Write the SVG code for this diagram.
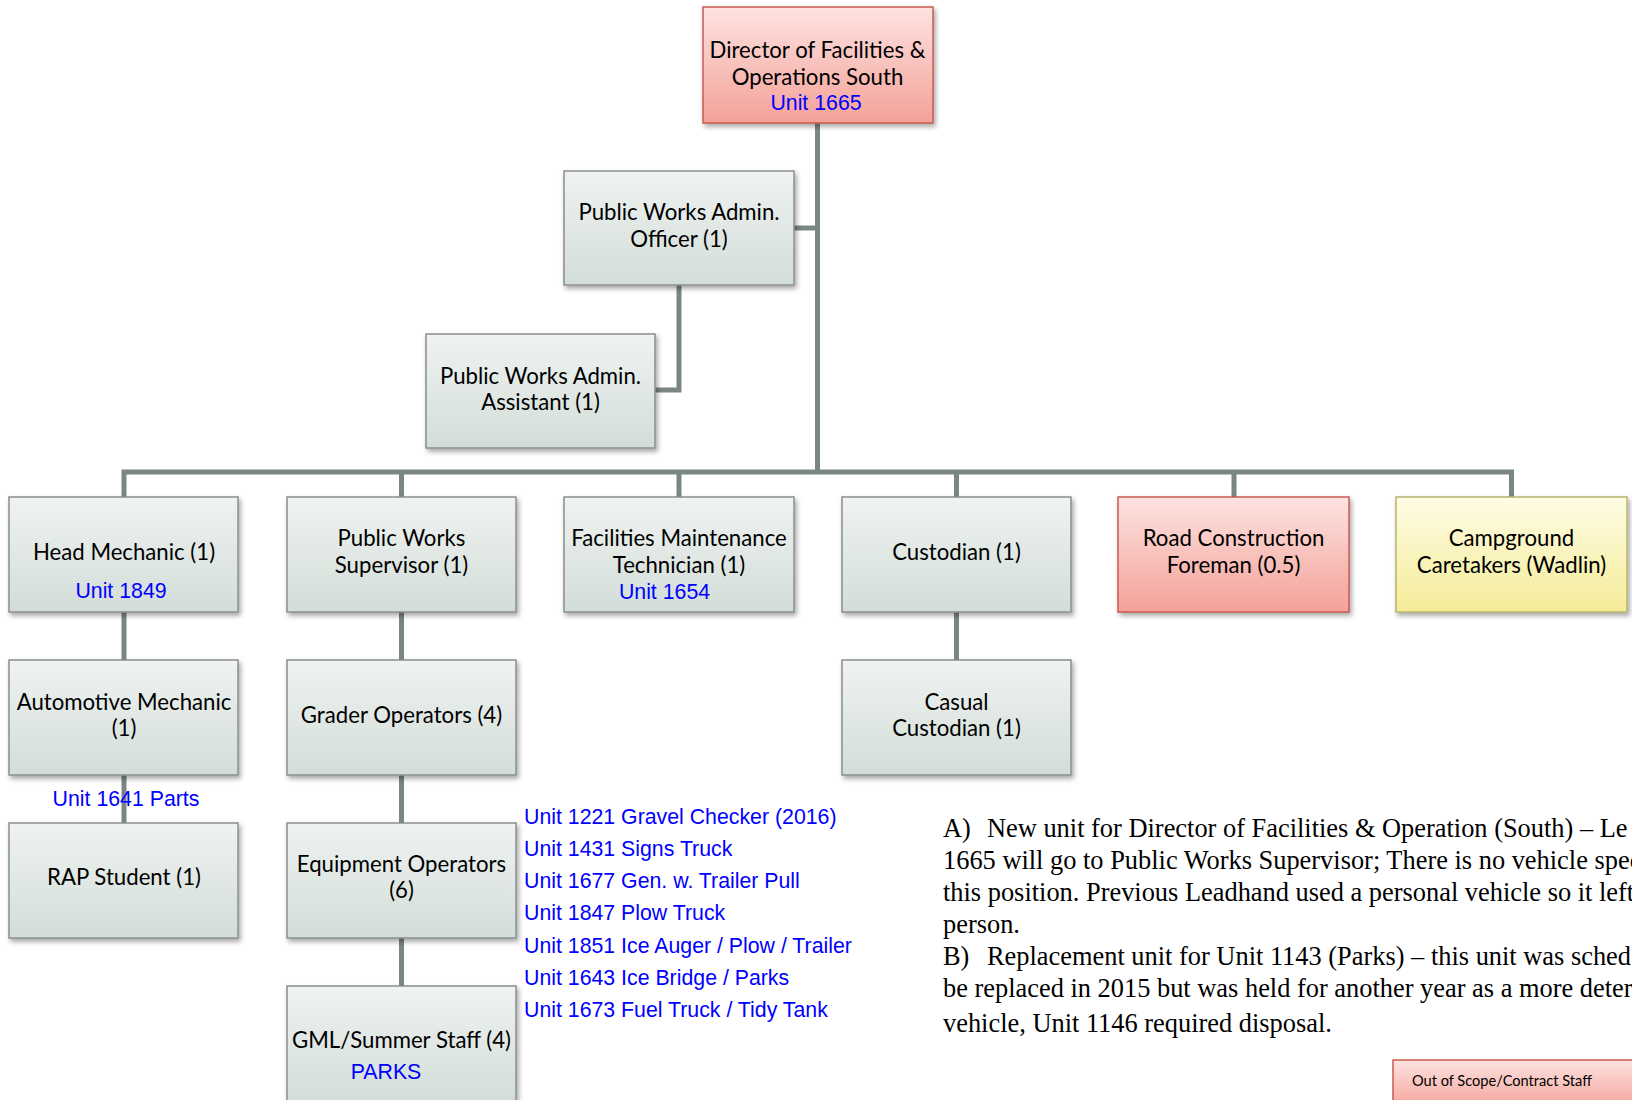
<svg xmlns="http://www.w3.org/2000/svg" width="1632" height="1100" viewBox="0 0 1632 1100">
<style>
.box{stroke-width:1.5}
.g{fill:url(#gGray);stroke:#8a8f8c}
.r{fill:url(#gRed);stroke:#c95a50}
.y{fill:url(#gYel);stroke:#b8b46c}
.t{font-family:Lato,"Open Sans",sans-serif;font-size:22.2px;fill:#000;text-anchor:middle}
.u{font-family:"Liberation Sans",Arial,sans-serif;font-size:21.3px;fill:#0000ff}
.c{text-anchor:middle}
.n{font-family:"Liberation Serif","Times New Roman",serif;font-size:26.4px;fill:#000}
.con{fill:none;stroke:#7a8680;stroke-width:5}
</style>
<defs>
<linearGradient id="gGray" x1="0" y1="0" x2="0" y2="1"><stop offset="0" stop-color="#eff3f1"/><stop offset="1" stop-color="#d3ddd8"/></linearGradient>
<linearGradient id="gRed" x1="0" y1="0" x2="0" y2="1"><stop offset="0" stop-color="#fde3e1"/><stop offset="1" stop-color="#f4a198"/></linearGradient>
<linearGradient id="gYel" x1="0" y1="0" x2="0" y2="1"><stop offset="0" stop-color="#fefce4"/><stop offset="1" stop-color="#f5ec98"/></linearGradient>
<filter id="sh" x="-10%" y="-10%" width="130%" height="130%"><feDropShadow dx="2" dy="3" stdDeviation="2.5" flood-color="#000" flood-opacity="0.35"/></filter>
</defs>
<rect width="1632" height="1100" fill="#fff"/>

<g id="connectors">
<path class="con" d="M817.5 123 V472"/>
<path class="con" d="M794 228 H817.5"/>
<path class="con" d="M679 285 V390 H655"/>
<path class="con" d="M124 497 V472 H1511.5 V497"/>
<path class="con" d="M401.5 472 V497 M679 472 V497 M956.5 472 V497 M1234 472 V497"/>
<path class="con" d="M124 612 V660 M124 775 V823"/>
<path class="con" d="M401.5 612 V660 M401.5 775 V823 M401.5 938 V986"/>
<path class="con" d="M956.5 612 V660"/>
</g>

<g id="director"><rect class="box r" filter="url(#sh)" x="703" y="7" width="230" height="116"/>
<text class="t" x="817.5" y="58">Director of Facilities &amp;</text>
<text class="t" x="817.5" y="85">Operations South</text>
<text class="u c" x="816" y="110">Unit 1665</text></g>

<g id="admin-officer"><rect class="box g" filter="url(#sh)" x="564" y="171" width="230" height="114"/>
<text class="t" x="679" y="220">Public Works Admin.</text>
<text class="t" x="679" y="247">Officer (1)</text></g>

<g id="admin-assistant"><rect class="box g" filter="url(#sh)" x="426" y="334" width="229" height="114"/>
<text class="t" x="540.5" y="384">Public Works Admin.</text>
<text class="t" x="540.5" y="410">Assistant (1)</text></g>

<g id="head-mechanic"><rect class="box g" filter="url(#sh)" x="9" y="497" width="229" height="115"/>
<text class="t" x="124" y="560">Head Mechanic (1)</text>
<text class="u c" x="121" y="598">Unit 1849</text></g>

<g id="pw-supervisor"><rect class="box g" filter="url(#sh)" x="287" y="497" width="229" height="115"/>
<text class="t" x="401.5" y="546">Public Works</text>
<text class="t" x="401.5" y="573">Supervisor (1)</text></g>

<g id="facilities-tech"><rect class="box g" filter="url(#sh)" x="564" y="497" width="230" height="115"/>
<text class="t" x="679" y="546">Facilities Maintenance</text>
<text class="t" x="679" y="573">Technician (1)</text>
<text class="u c" x="664.5" y="599">Unit 1654</text></g>

<g id="custodian"><rect class="box g" filter="url(#sh)" x="842" y="497" width="229" height="115"/>
<text class="t" x="956.5" y="560">Custodian (1)</text></g>

<g id="road-foreman"><rect class="box r" filter="url(#sh)" x="1118" y="497" width="231" height="115"/>
<text class="t" x="1233.5" y="546">Road Construction</text>
<text class="t" x="1233.5" y="573">Foreman (0.5)</text></g>

<g id="campground"><rect class="box y" filter="url(#sh)" x="1396" y="497" width="231" height="115"/>
<text class="t" x="1511.5" y="546">Campground</text>
<text class="t" x="1511.5" y="573">Caretakers (Wadlin)</text></g>

<g id="auto-mechanic"><rect class="box g" filter="url(#sh)" x="9" y="660" width="229" height="115"/>
<text class="t" x="124" y="710">Automotive Mechanic</text>
<text class="t" x="124" y="736">(1)</text></g>

<g id="grader"><rect class="box g" filter="url(#sh)" x="287" y="660" width="229" height="115"/>
<text class="t" x="401.5" y="723">Grader Operators (4)</text></g>

<g id="casual-custodian"><rect class="box g" filter="url(#sh)" x="842" y="660" width="229" height="115"/>
<text class="t" x="956.5" y="710">Casual</text>
<text class="t" x="956.5" y="736">Custodian (1)</text></g>

<g id="unit-1641"><text class="u c" x="126" y="806">Unit 1641 Parts</text></g>

<g id="rap-student"><rect class="box g" filter="url(#sh)" x="9" y="823" width="229" height="115"/>
<text class="t" x="124" y="885">RAP Student (1)</text></g>

<g id="equipment"><rect class="box g" filter="url(#sh)" x="287" y="823" width="229" height="115"/>
<text class="t" x="401.5" y="872">Equipment Operators</text>
<text class="t" x="401.5" y="898">(6)</text></g>

<g id="gml"><rect class="box g" filter="url(#sh)" x="287" y="986" width="229" height="115"/>
<text class="t" x="401.5" y="1048">GML/Summer Staff (4)</text>
<text class="u c" x="386" y="1079">PARKS</text></g>

<g id="unit-list">
<text class="u" x="524" y="823.5">Unit 1221 Gravel Checker (2016)</text>
<text class="u" x="524" y="855.5">Unit 1431 Signs Truck</text>
<text class="u" x="524" y="888">Unit 1677 Gen. w. Trailer Pull</text>
<text class="u" x="524" y="920">Unit 1847 Plow Truck</text>
<text class="u" x="524" y="952.5">Unit 1851 Ice Auger / Plow / Trailer</text>
<text class="u" x="524" y="985">Unit 1643 Ice Bridge / Parks</text>
<text class="u" x="524" y="1017">Unit 1673 Fuel Truck / Tidy Tank</text>
</g>

<g id="notes">
<text class="n" y="836.5"><tspan x="943">A)</tspan><tspan x="987">New unit for Director of Facilities &amp; Operation (South) – Le</tspan></text>
<text class="n" x="943" y="868.5">1665 will go to Public Works Supervisor; There is no vehicle spec</text>
<text class="n" x="943" y="900.5">this position. Previous Leadhand used a personal vehicle so it left</text>
<text class="n" x="943" y="932.5">person.</text>
<text class="n" y="964.5"><tspan x="943">B)</tspan><tspan x="987">Replacement unit for Unit 1143 (Parks) – this unit was sched</tspan></text>
<text class="n" x="943" y="996.5">be replaced in 2015 but was held for another year as a more deter</text>
<text class="n" x="943" y="1031.5">vehicle, Unit 1146 required disposal.</text>
</g>

<g id="legend"><rect class="box r" x="1393" y="1060" width="260" height="50"/>
<text x="1412" y="1086" style="font-family:Lato,sans-serif;font-size:14.6px;fill:#000">Out of Scope/Contract Staff</text></g>
</svg>
